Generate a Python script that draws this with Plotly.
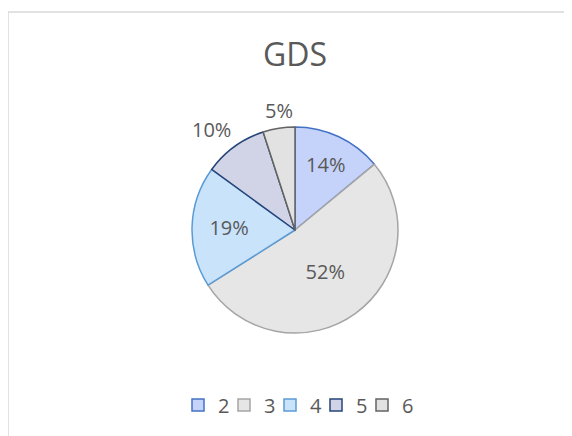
import math
import plotly.graph_objects as go

categories = ["2", "3", "4", "5", "6"]
values = [14, 52, 19, 10, 5]
fill_colors = ["#c5d3fa", "#e6e6e6", "#c9e3fb", "#d0d4e6", "#e2e2e2"]
line_colors = ["#4472c4", "#a5a5a5", "#5b9bd5", "#264478", "#636363"]
outside = [False, False, False, True, True]

# page is offset by the browser's 8px body margin
OFF = 8
W, H = 572 - OFF, 436 - OFF
cx, cy, r = 295 - OFF, 230 - OFF, 103

total = sum(values)
pct_text = [f"{round(100 * v / total)}%" for v in values]
inside_text = ["" if o else t for t, o in zip(pct_text, outside)]

fig = go.Figure(go.Pie(
    labels=categories,
    values=values,
    sort=False,
    direction="clockwise",
    rotation=0,
    marker=dict(colors=fill_colors, line=dict(color=line_colors, width=1.5)),
    text=inside_text,
    textinfo="text",
    textposition="inside",
    insidetextorientation="horizontal",
    textfont=dict(family="Open Sans", size=20, color="#595959"),
    domain=dict(x=[(cx - r) / W, (cx + r) / W], y=[(H - cy - r) / H, (H - cy + r) / H]),
    hoverinfo="label+percent",
))

# invisible spacer entry so the last legend label is not clipped
fig.add_trace(go.Scatter(x=[None], y=[None], mode="markers", name=" ",
                         marker=dict(color="rgba(0,0,0,0)", size=1,
                                     line=dict(width=0, color="rgba(0,0,0,0)")),
                         hoverinfo="skip", showlegend=True))

# outside labels for the small slices, placed from the slice mid-angles
annotations = []
cum = 0
for v, t, o in zip(values, pct_text, outside):
    mid = (cum + v / 2) / total * 2 * math.pi
    cum += v
    if not o:
        continue
    dx, dy = math.sin(mid), -math.cos(mid)
    px = cx + dx * (r + 2)
    py = cy + dy * (r + 2)
    xa = "center" if abs(dx) < 0.3 else ("left" if dx > 0 else "right")
    ya = "bottom" if dy < 0 else "top"
    annotations.append(dict(text=t, x=px / W, y=1 - py / H, xref="paper", yref="paper",
                            xanchor=xa, yanchor=ya, showarrow=False,
                            font=dict(family="Open Sans", size=20, color="#595959")))

fig.update_layout(
    width=W, height=H,
    margin=dict(l=0, r=0, t=0, b=0),
    paper_bgcolor="white",
    plot_bgcolor="rgba(0,0,0,0)",
    xaxis=dict(visible=False),
    yaxis=dict(visible=False),
    title=dict(text="GDS", x=cx / W, xanchor="center", y=1 - (55 - OFF) / H, yanchor="middle",
               font=dict(family="Open Sans", size=32, color="#595959")),
    legend=dict(orientation="h", x=(178 - OFF) / W, xanchor="left", y=1 - (405 - OFF) / H, yanchor="middle",
                font=dict(family="Open Sans", size=20, color="#595959"),
                bgcolor="rgba(0,0,0,0)", itemwidth=30, entrywidth=1),
    annotations=annotations,
    shapes=[dict(type="rect", xref="paper", yref="paper",
                 x0=0, x1=1.05, y0=-0.05, y1=1 - (12 - OFF) / H,
                 line=dict(color="#d9d9d9", width=1.5), fillcolor="rgba(0,0,0,0)", layer="below")],
)

fig.write_html("out.html")
